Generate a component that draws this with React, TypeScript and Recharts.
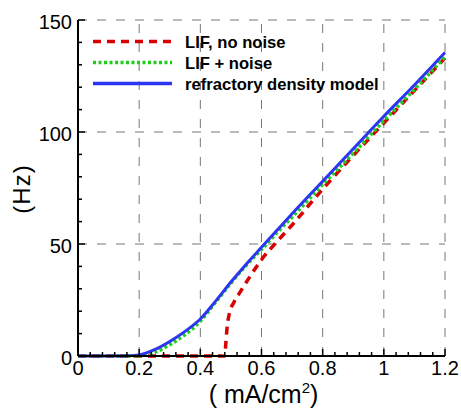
import React from "react";
import { LineChart, Line, XAxis, YAxis, ReferenceLine, Legend } from "recharts";

// firing rate vs input current, three models
const redX = [0, 0.48, 0.483, 0.487, 0.495, 0.51, 0.53, 0.56, 0.6, 0.65, 0.7, 0.8, 0.9, 1.0, 1.1, 1.2];
const redY = [0, 0, 5, 12, 19, 24, 28.5, 35, 43, 51, 58.5, 74.5, 89.5, 104, 118.5, 133];

const greenX = [0, 0.2, 0.22, 0.25, 0.3, 0.35, 0.4, 0.45, 0.5, 0.55, 0.6, 0.65, 0.7, 0.8, 0.9, 1.0, 1.1, 1.2];
const greenY = [0, 0, 0.5, 1.5, 5, 9.5, 15.5, 24, 32.5, 40.5, 47.5, 55, 62, 76.5, 90.5, 105, 119, 133.5];

const blueX = [0, 0.15, 0.2, 0.25, 0.3, 0.35, 0.4, 0.45, 0.5, 0.55, 0.6, 0.65, 0.7, 0.8, 0.9, 1.0, 1.1, 1.2];
const blueY = [0, 0, 0.5, 2.8, 6.5, 11, 16.5, 24.5, 33, 41, 48.5, 56, 63.5, 78, 92.5, 107, 121, 135.5];

const seriesNames = ["LIF, no noise", "LIF + noise", "refractory density model"];

const xMajor = [0, 0.2, 0.4, 0.6, 0.8, 1, 1.2];
const yMajor = [0, 50, 100, 150];

// minor ticks: every 0.04 on x, every 10 on y
const xTicks = Array.from({ length: 31 }, (_, i) => Math.round(i * 4) / 100);
const yTicks = Array.from({ length: 16 }, (_, i) => i * 10);

const toPoints = (xs: number[], ys: number[]) => xs.map((x, i) => ({ x, y: ys[i] }));
const redData = toPoints(redX, redY);
const greenData = toPoints(greenX, greenY);
const blueData = toPoints(blueX, blueY);

const FONT = '"Liberation Sans", Arial, Helvetica, sans-serif';

const isMajorX = (v: number) => xMajor.some((m) => Math.abs(m - v) < 1e-6);

const XTick = (props: any) => {
  const { x, y, payload } = props;
  const major = isMajorX(payload.value);
  return (
    <g>
      <line x1={x} x2={x} y1={y} y2={y - (major ? 7 : 4)} stroke="#000" strokeWidth={1.5} />
      {major && (
        <text x={x} y={y + 19} textAnchor="middle" fontSize={20} fontFamily={FONT} fill="#000">
          {String(payload.value)}
        </text>
      )}
    </g>
  );
};

const YTick = (props: any) => {
  const { x, y, payload } = props;
  const major = yMajor.includes(payload.value);
  return (
    <g>
      <line x1={x} x2={x + (major ? 7 : 4)} y1={y} y2={y} stroke="#000" strokeWidth={1.5} />
      {major && (
        <text x={x - 6} y={y + 9} textAnchor="end" fontSize={20} fontFamily={FONT} fill="#000">
          {String(payload.value)}
        </text>
      )}
    </g>
  );
};

const XTitle = (props: any) => {
  const { viewBox } = props;
  const cx = viewBox.x + viewBox.width / 2 + 2;
  return (
    <text x={cx} y={viewBox.y + 47} textAnchor="middle" fontSize={25} fontFamily={FONT} fill="#000">
      {"( mA/cm"}
      <tspan fontSize={15} dy={-10}>2</tspan>
      <tspan dy={10}>)</tspan>
    </text>
  );
};

const YTitle = (props: any) => {
  const { viewBox } = props;
  const cy = viewBox.y + viewBox.height / 2 + 1;
  return (
    <text
      x={30}
      y={cy}
      transform={`rotate(-90, 30, ${cy})`}
      textAnchor="middle"
      fontSize={24}
      fontFamily={FONT}
      letterSpacing={1}
      fill="#000"
    >
      (Hz)
    </text>
  );
};

const LegendBox = (props: any) => {
  const { payload } = props;
  const entries = seriesNames
    .map((name) => payload.find((p: any) => p.value === name))
    .filter(Boolean);
  return (
    <svg width={320} height={66}>
      {entries.map((entry: any, i: number) => {
        const cy = 11.5 + i * 21;
        return (
          <g key={entry.value}>
            <line
              x1={3}
              x2={82}
              y1={cy}
              y2={cy}
              stroke={entry.color}
              strokeWidth={3.5}
              strokeDasharray={entry.payload.strokeDasharray}
            />
            <text x={95} y={cy + 6} fontSize={16.6} fontWeight="bold" fontFamily={FONT} fill="#000">
              {entry.value}
            </text>
          </g>
        );
      })}
    </svg>
  );
};

export default function App() {
  return (
    <div style={{ position: "absolute", left: 0, top: 0, background: "#fff" }}>
      <LineChart width={461} height={410} margin={{ top: 20, right: 16, bottom: 0, left: 0 }}>
        <XAxis
          type="number"
          dataKey="x"
          domain={[0, 1.2]}
          ticks={xTicks}
          interval={0}
          tick={<XTick />}
          tickLine={false}
          tickSize={0}
          tickMargin={0}
          height={54}
          axisLine={{ stroke: "#000", strokeWidth: 2 }}
          allowDuplicatedCategory={false}
          label={<XTitle />}
        />
        <YAxis
          type="number"
          dataKey="y"
          domain={[0, 150]}
          ticks={yTicks}
          interval={0}
          tick={<YTick />}
          tickLine={false}
          tickSize={0}
          tickMargin={0}
          width={78}
          axisLine={{ stroke: "#000", strokeWidth: 2 }}
          label={<YTitle />}
        />
        {xMajor.slice(1).map((v) => (
          <ReferenceLine key={"gx" + v} x={v} stroke="#777" strokeWidth={1} strokeDasharray="9 10" />
        ))}
        {yMajor.slice(1).map((v) => (
          <ReferenceLine key={"gy" + v} y={v} stroke="#777" strokeWidth={1} strokeDasharray="9 10" />
        ))}
        <Legend
          layout="vertical"
          align="center"
          verticalAlign="middle"
          content={<LegendBox />}
          wrapperStyle={{ left: 90, top: 30, width: 320, height: 66 }}
        />
        <Line
          data={redData}
          dataKey="y"
          name={seriesNames[0]}
          type="monotone"
          stroke="#d90000"
          strokeWidth={3.5}
          strokeDasharray="8 6"
          dot={false}
          isAnimationActive={false}
        />
        <Line
          data={greenData}
          dataKey="y"
          name={seriesNames[1]}
          type="monotone"
          stroke="#1ccf1c"
          strokeWidth={3.5}
          strokeDasharray="3 2.5"
          dot={false}
          isAnimationActive={false}
        />
        <Line
          data={blueData}
          dataKey="y"
          name={seriesNames[2]}
          type="monotone"
          stroke="#2b35f2"
          strokeWidth={3}
          dot={false}
          isAnimationActive={false}
        />
      </LineChart>
    </div>
  );
}
